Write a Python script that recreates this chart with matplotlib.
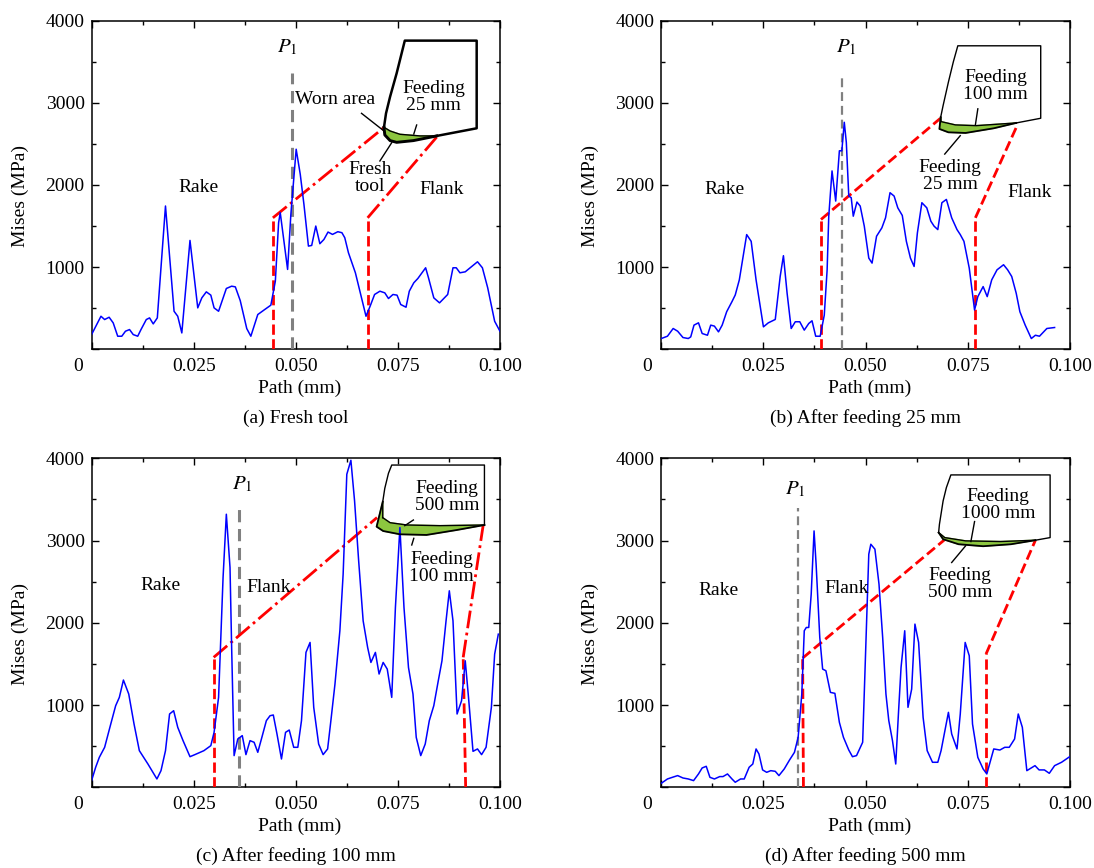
import matplotlib
matplotlib.use("Agg")
import matplotlib.pyplot as plt
from matplotlib.ticker import MultipleLocator

plt.rcParams["font.family"] = "serif"
plt.rcParams["font.serif"] = ["Liberation Serif", "DejaVu Serif"]
plt.rcParams["mathtext.fontset"] = "stix"
plt.rcParams["font.size"] = 14

# ---------------------------------------------------------------------------
# Mises stress along the path
# ---------------------------------------------------------------------------
xa = [0.0000, 0.0023, 0.0032, 0.0043, 0.0053, 0.0064, 0.0074, 0.0083, 0.0093, 0.0102,
      0.0113, 0.0121, 0.0134, 0.0142, 0.0151, 0.0161, 0.0181, 0.0202, 0.0211, 0.0221,
      0.0241, 0.0260, 0.0270, 0.0281, 0.0292, 0.0300, 0.0311, 0.0330, 0.0343, 0.0352,
      0.0364, 0.0380, 0.0390, 0.0407, 0.0424, 0.0439, 0.0450, 0.0458, 0.0462, 0.0480,
      0.0488, 0.0501, 0.0511, 0.0520, 0.0531, 0.0539, 0.0549, 0.0559, 0.0569, 0.0579,
      0.0590, 0.0603, 0.0613, 0.0620, 0.0629, 0.0646, 0.0659, 0.0672, 0.0682, 0.0693,
      0.0706, 0.0718, 0.0727, 0.0738, 0.0748, 0.0757, 0.0770, 0.0778, 0.0789, 0.0799,
      0.0818, 0.0825, 0.0838, 0.0852, 0.0872, 0.0885, 0.0893, 0.0902, 0.0915, 0.0927,
      0.0945, 0.0957, 0.0970, 0.0987, 0.1000]
ya = [179, 402, 362, 390, 321, 159, 159, 220, 240, 179,
      159, 240, 362, 382, 309, 382, 1744, 463, 402, 199,
      1325, 504, 626, 699, 659, 504, 463, 740, 768, 760,
      593, 252, 159, 423, 484, 537, 829, 1541, 1663, 972,
      1642, 2435, 2130, 1764, 1256, 1264, 1500, 1285, 1337, 1427,
      1398, 1431, 1419, 1358, 1175, 931, 667, 402, 524, 667,
      707, 687, 618, 667, 659, 545, 512, 707, 809, 862,
      992, 870, 626, 565, 667, 992, 992, 931, 943, 992,
      1065, 992, 748, 341, 220]

xb = [0.0000, 0.0015, 0.0029, 0.0040, 0.0053, 0.0066, 0.0072, 0.0080, 0.0091, 0.0100,
      0.0113, 0.0121, 0.0130, 0.0140, 0.0149, 0.0160, 0.0173, 0.0181, 0.0191, 0.0209,
      0.0220, 0.0232, 0.0250, 0.0262, 0.0279, 0.0291, 0.0299, 0.0308, 0.0318, 0.0328,
      0.0339, 0.0350, 0.0361, 0.0369, 0.0378, 0.0389, 0.0399, 0.0406, 0.0410, 0.0418,
      0.0427, 0.0436, 0.0442, 0.0448, 0.0453, 0.0459, 0.0465, 0.0470, 0.0479, 0.0487,
      0.0497, 0.0508, 0.0516, 0.0527, 0.0540, 0.0549, 0.0560, 0.0570, 0.0579, 0.0590,
      0.0600, 0.0610, 0.0619, 0.0627, 0.0638, 0.0650, 0.0660, 0.0668, 0.0677, 0.0687,
      0.0698, 0.0711, 0.0724, 0.0732, 0.0741, 0.0754, 0.0767, 0.0775, 0.0788, 0.0798,
      0.0809, 0.0822, 0.0838, 0.0848, 0.0858, 0.0869, 0.0878, 0.0891, 0.0906, 0.0916,
      0.0926, 0.0944, 0.0963]
yb = [131, 159, 253, 220, 143, 131, 151, 294, 322, 192,
      171, 294, 282, 212, 294, 457, 580, 661, 845, 1396,
      1314, 845, 273, 322, 363, 886, 1139, 682, 253, 335,
      335, 233, 314, 347, 159, 159, 416, 967, 1620, 2171,
      1804, 2416, 2416, 2763, 2518, 1865, 1845, 1620, 1792, 1743,
      1498, 1110, 1049, 1376, 1478, 1600, 1906, 1865, 1722, 1629,
      1314, 1110, 1008, 1416, 1784, 1722, 1559, 1498, 1457, 1784,
      1824, 1600, 1457, 1396, 1314, 988, 478, 641, 763, 641,
      845, 967, 1029, 967, 886, 682, 457, 294, 131, 171,
      159, 253, 265]

xc = [0.0000, 0.0010, 0.0019, 0.0032, 0.0047, 0.0059, 0.0068, 0.0078, 0.0091, 0.0104,
      0.0117, 0.0138, 0.0160, 0.0170, 0.0181, 0.0191, 0.0201, 0.0211, 0.0224, 0.0241,
      0.0253, 0.0275, 0.0292, 0.0300, 0.0311, 0.0322, 0.0330, 0.0339, 0.0343, 0.0349,
      0.0358, 0.0369, 0.0378, 0.0388, 0.0398, 0.0407, 0.0417, 0.0428, 0.0437, 0.0445,
      0.0454, 0.0465, 0.0475, 0.0484, 0.0495, 0.0505, 0.0514, 0.0525, 0.0535, 0.0544,
      0.0556, 0.0567, 0.0578, 0.0586, 0.0596, 0.0608, 0.0616, 0.0625, 0.0635, 0.0644,
      0.0654, 0.0665, 0.0676, 0.0684, 0.0695, 0.0704, 0.0714, 0.0724, 0.0735, 0.0744,
      0.0755, 0.0765, 0.0776, 0.0787, 0.0795, 0.0806, 0.0817, 0.0827, 0.0838, 0.0849,
      0.0858, 0.0868, 0.0876, 0.0885, 0.0895, 0.0906, 0.0915, 0.0923, 0.0934, 0.0945,
      0.0955, 0.0966, 0.0979, 0.0987, 0.0996]
yc = [81, 243, 364, 486, 769, 992, 1093, 1304, 1134, 769,
      445, 283, 101, 202, 445, 891, 931, 729, 567, 372,
      397, 445, 506, 668, 1093, 2551, 3320, 2672, 1700, 385,
      587, 628, 397, 567, 547, 425, 607, 810, 870, 879,
      648, 344, 668, 696, 486, 486, 810, 1640, 1761, 972,
      526, 397, 466, 810, 1255, 1903, 2591, 3806, 3976, 3482,
      2753, 2024, 1700, 1518, 1640, 1377, 1518, 1437, 1093, 2186,
      3158, 2186, 1457, 1134, 607, 385, 526, 810, 992, 1296,
      1538, 2024, 2389, 2024, 891, 1053, 1538, 1093, 437, 466,
      397, 486, 972, 1619, 1862]

xd = [0.0000, 0.0015, 0.0027, 0.0040, 0.0053, 0.0066, 0.0079, 0.0091, 0.0100, 0.0110,
      0.0119, 0.0130, 0.0143, 0.0151, 0.0162, 0.0173, 0.0181, 0.0194, 0.0203, 0.0215,
      0.0224, 0.0232, 0.0239, 0.0248, 0.0258, 0.0268, 0.0279, 0.0288, 0.0301, 0.0314,
      0.0326, 0.0335, 0.0344, 0.0350, 0.0355, 0.0361, 0.0367, 0.0374, 0.0379, 0.0388,
      0.0395, 0.0403, 0.0414, 0.0425, 0.0436, 0.0446, 0.0459, 0.0468, 0.0478, 0.0493,
      0.0499, 0.0508, 0.0513, 0.0523, 0.0533, 0.0542, 0.0550, 0.0557, 0.0566, 0.0574,
      0.0581, 0.0587, 0.0596, 0.0604, 0.0613, 0.0621, 0.0630, 0.0641, 0.0651, 0.0664,
      0.0677, 0.0685, 0.0703, 0.0711, 0.0724, 0.0732, 0.0744, 0.0754, 0.0762, 0.0775,
      0.0788, 0.0797, 0.0814, 0.0829, 0.0841, 0.0852, 0.0865, 0.0874, 0.0884, 0.0895,
      0.0915, 0.0925, 0.0938, 0.0950, 0.0963, 0.0980, 0.1000]
yd = [49, 101, 121, 142, 113, 101, 81, 162, 235, 255,
      121, 101, 130, 130, 162, 101, 61, 101, 101, 243,
      283, 466, 405, 211, 182, 202, 194, 142, 223, 332,
      425, 607, 1134, 1903, 1943, 1943, 2348, 3117, 2713, 1822,
      1437, 1417, 1154, 1142, 789, 607, 453, 372, 385, 547,
      1457, 2834, 2955, 2895, 2470, 1822, 1134, 810, 567, 283,
      931, 1457, 1903, 972, 1194, 1984, 1761, 850, 445, 304,
      304, 445, 911, 648, 466, 891, 1761, 1599, 769, 364,
      223, 162, 466, 453, 486, 486, 587, 891, 729, 202,
      263, 211, 211, 170, 263, 304, 372]

captions = ["(a) Fresh tool", "(b) After feeding 25 mm",
            "(c) After feeding 100 mm", "(d) After feeding 500 mm"]

# P1 marker: x position, top of dashed line, label position
p1_x = [0.0491, 0.0442, 0.0361, 0.0335]
p1_top = [3367, 3355, 3393, 3393]
p1_label = [(0.0479, 3676), (0.0453, 3669), (0.0369, 3684), (0.0328, 3623)]

# red zoom guides: (x bottom, x top, y top) of vertical part, end of slanted part
red_left = [(0.0444, 0.0444, 1600, 0.0716, 2700),
            (0.0391, 0.0391, 1580, 0.0683, 2810),
            (0.0299, 0.0299, 1580, 0.0699, 3280),
            (0.0348, 0.0346, 1571, 0.0696, 3020)]
red_right = [(0.0676, 0.0676, 1600, 0.0848, 2600),
             (0.0769, 0.0769, 1600, 0.0873, 2743),
             (0.0916, 0.0910, 1580, 0.0959, 3190),
             (0.0795, 0.0795, 1619, 0.0916, 3004)]
red_style = [("--", "-."), ("--", "--"), ("--", "-."), ("--", "--")]

# tool sketches (outline, worn edge, fresh/lower edge) in data coordinates
tool_outline = [
    [(0.0716, 2702), (0.0721, 2872), (0.0731, 3075), (0.0747, 3359), (0.0767, 3757),
     (0.0943, 3757), (0.0943, 2690), (0.0845, 2597)],
    [(0.0684, 2824), (0.0690, 2967), (0.0703, 3253), (0.0715, 3498), (0.0726, 3694),
     (0.0929, 3694), (0.0929, 2812), (0.0869, 2755)],
    [(0.0713, 3278), (0.0713, 3473), (0.0718, 3635), (0.0727, 3818), (0.0735, 3918),
     (0.0962, 3918), (0.0962, 3189)],
    [(0.0679, 3097), (0.0681, 3198), (0.0690, 3482), (0.0698, 3644), (0.0709, 3798),
     (0.0952, 3798), (0.0952, 3036), (0.0916, 3004)],
]
tool_worn = [
    [(0.0716, 2702), (0.0731, 2657), (0.0755, 2617), (0.0804, 2597), (0.0845, 2597)],
    [(0.0684, 2824), (0.0685, 2771), (0.0720, 2731), (0.0771, 2722), (0.0869, 2755)],
    [(0.0713, 3278), (0.0731, 3217), (0.0772, 3189), (0.0853, 3181), (0.0962, 3189)],
    [(0.0679, 3097), (0.0694, 3036), (0.0745, 2996), (0.0831, 2988), (0.0916, 3004)],
]
tool_lower = [
    [(0.0716, 2702), (0.0718, 2609), (0.0731, 2540), (0.0747, 2519), (0.0788, 2540),
     (0.0845, 2597)],
    [(0.0684, 2824), (0.0681, 2682), (0.0703, 2641), (0.0745, 2633), (0.0814, 2690),
     (0.0869, 2755)],
    [(0.0713, 3473), (0.0705, 3311), (0.0698, 3169), (0.0714, 3116), (0.0755, 3076),
     (0.0820, 3068), (0.0894, 3128), (0.0962, 3189)],
    [(0.0679, 3097), (0.0690, 3016), (0.0728, 2955), (0.0788, 2931), (0.0856, 2955),
     (0.0916, 3004)],
]
tool_leaders = [
    [[(0.0661, 2872), (0.0713, 2669)], [(0.0796, 2730), (0.0789, 2620)],
     [(0.0706, 2292), (0.0735, 2515)]],
    [[(0.0775, 2927), (0.0769, 2731)], [(0.0694, 2376), (0.0732, 2600)]],
    [[(0.0788, 3250), (0.0767, 3181)], [(0.0789, 3027), (0.0784, 2946)]],
    [[(0.0767, 3231), (0.0758, 2988)], [(0.0711, 2733), (0.0745, 2935)]],
]
notes = [
    [("Worn area", 0.0596, 3035), ("Feeding\n25 mm", 0.0837, 3067),
     ("Fresh\ntool", 0.0682, 2081), ("Rake", 0.0262, 1967), ("Flank", 0.0857, 1947)],
    [("Feeding\n100 mm", 0.0818, 3204), ("Feeding\n25 mm", 0.0707, 2110),
     ("Rake", 0.0154, 1947), ("Flank", 0.0903, 1906)],
    [("Feeding\n500 mm", 0.0871, 3533), ("Feeding\n100 mm", 0.0857, 2663),
     ("Rake", 0.0168, 2457), ("Flank", 0.0433, 2429)],
    [("Feeding\n1000 mm", 0.0824, 3429), ("Feeding\n500 mm", 0.0731, 2470),
     ("Rake", 0.0141, 2389), ("Flank", 0.0453, 2421)],
]

curves = [(xa, ya), (xb, yb), (xc, yc), (xd, yd)]
p1_lw = [2.2, 1.6, 2.2, 1.6]
tool_lw = [1.8, 1.0, 1.0, 1.0]

# axes rectangles in figure fractions (left, bottom, width, height)
rects = [(0.0837, 0.5976, 0.3733, 0.3786), (0.6045, 0.5976, 0.3733, 0.3786),
         (0.0837, 0.0930, 0.3733, 0.3790), (0.6045, 0.0930, 0.3733, 0.3790)]

fig = plt.figure(figsize=(10.94, 8.68), dpi=100)

for i in range(4):
    ax = fig.add_axes(rects[i])
    x, y = curves[i]
    ax.plot(x, y, color="#0000ff", lw=1.1, zorder=5)

    # P1 line
    ax.plot([p1_x[i], p1_x[i]], [0, p1_top[i]], color="#808080", lw=p1_lw[i],
            dashes=(4, 2.2), zorder=3)
    ax.text(p1_label[i][0], p1_label[i][1], r"$P_{\rm 1}$", ha="center", va="center",
            fontsize=15)

    # red guides
    for (xb0, xt0, yt0, xe, ye) in (red_left[i], red_right[i]):
        ax.plot([xb0, xt0], [0, yt0], color="#ff0000", lw=2.0, ls=red_style[i][0], zorder=4)
        ax.plot([xt0, xe], [yt0, ye], color="#ff0000", lw=2.0, ls=red_style[i][1], zorder=4)

    # tool sketch
    outline = tool_outline[i]
    worn = tool_worn[i]
    lower = tool_lower[i]
    body = outline + worn[::-1]
    ax.fill([p[0] for p in body], [p[1] for p in body], color="white", zorder=4)
    ax.plot([p[0] for p in outline], [p[1] for p in outline], color="black",
            lw=tool_lw[i], zorder=6)
    green = lower + worn[::-1]
    if i == 2:
        green = lower + worn[::-1] + [outline[1]]
    ax.fill([p[0] for p in green], [p[1] for p in green], color="#8cc63f", zorder=4)
    ax.plot([p[0] for p in worn], [p[1] for p in worn], color="black", lw=1.0, zorder=6)
    ax.plot([p[0] for p in lower], [p[1] for p in lower], color="black",
            lw=tool_lw[i] + 0.3, zorder=6)
    for seg in tool_leaders[i]:
        ax.plot([seg[0][0], seg[1][0]], [seg[0][1], seg[1][1]], color="black", lw=1.0,
                zorder=6)
    for (txt, tx, ty) in notes[i]:
        ax.text(tx, ty, txt, ha="center", va="center", multialignment="center",
                linespacing=1.0, fontsize=14, zorder=7)

    ax.set_xlim(0, 0.1)
    ax.set_ylim(0, 4000)
    ax.set_xticks([0, 0.025, 0.05, 0.075, 0.1])
    ax.set_xticklabels(["", "0.025", "0.050", "0.075", "0.100"])
    ax.set_yticks([0, 1000, 2000, 3000, 4000])
    ax.set_yticklabels(["", "1000", "2000", "3000", "4000"])
    ax.xaxis.set_minor_locator(MultipleLocator(0.0125))
    ax.yaxis.set_minor_locator(MultipleLocator(500))
    ax.tick_params(which="both", direction="in", top=True, right=True, width=1.0,
                   labelsize=14)
    ax.tick_params(which="major", length=5)
    ax.tick_params(which="minor", length=3)
    ax.tick_params(axis="x", pad=6)
    ax.tick_params(axis="y", pad=5)
    for sp in ax.spines.values():
        sp.set_linewidth(1.1)
    ax.annotate("0", xy=(0, 0), xycoords="axes fraction", xytext=(-10, -6),
                textcoords="offset points", ha="center", va="top", fontsize=14)
    ax.set_ylabel("Mises (MPa)", fontsize=14)
    ax.yaxis.set_label_coords(-0.152, 0.467)
    ax.text(0.51, -0.12, "Path (mm)", transform=ax.transAxes, ha="center",
            va="center", fontsize=14)
    ax.text(0.50, -0.21, captions[i], transform=ax.transAxes, ha="center",
            va="center", fontsize=14)

fig.savefig("out.png", dpi=100)
